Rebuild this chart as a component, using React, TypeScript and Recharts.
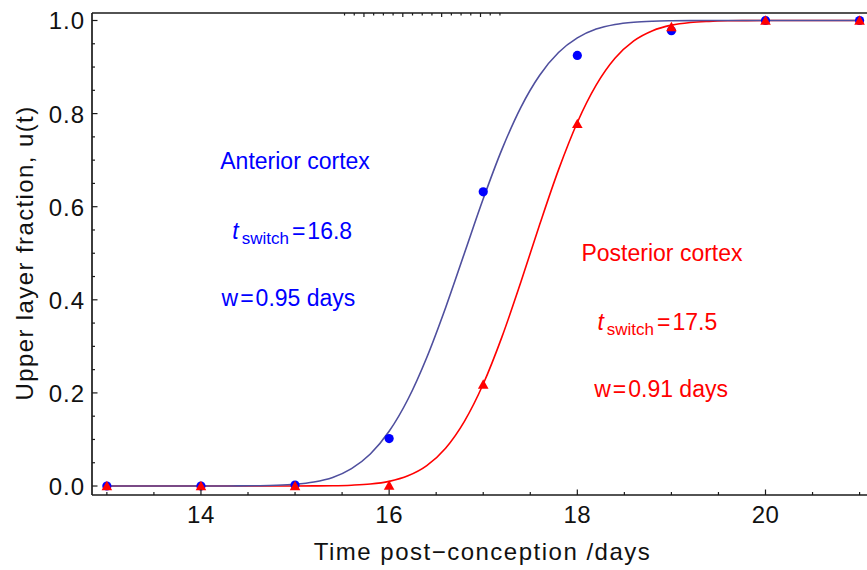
import { ComposedChart, Line, Scatter, XAxis, YAxis, ReferenceDot } from 'recharts';

// fitted switching curves, sampled every 0.2 days
const fitTimes = [
    13, 13.2, 13.4, 13.6, 13.8, 14, 14.2, 14.4, 14.6, 14.8,
    15, 15.2, 15.4, 15.6, 15.8, 16, 16.2, 16.4, 16.6, 16.8,
    17, 17.2, 17.4, 17.6, 17.8, 18, 18.2, 18.4, 18.6, 18.8,
    19, 19.2, 19.4, 19.6, 19.8, 20, 20.2, 20.4, 20.6, 20.8, 21,
];
const anteriorFit = [
    0, 0, 0, 0, 0, 0, 0, 0.0002, 0.0006, 0.0015,
    0.0037, 0.0086, 0.0185, 0.0374, 0.0688, 0.1175, 0.1864, 0.2762, 0.3831, 0.5,
    0.6169, 0.7238, 0.8136, 0.8825, 0.9312, 0.9626, 0.9815, 0.9914, 0.9963, 0.9985,
    0.9994, 0.9998, 1, 1, 1, 1, 1, 1, 1, 1, 1,
];
const posteriorFit = [
    0, 0, 0, 0, 0, 0, 0, 0, 0, 0,
    0, 0.0002, 0.0006, 0.0018, 0.0042, 0.01, 0.0219, 0.0438, 0.0812, 0.1389,
    0.2191, 0.3209, 0.4383, 0.5617, 0.6791, 0.7809, 0.8611, 0.9188, 0.9562, 0.9781,
    0.99, 0.9958, 0.9982, 0.9994, 0.9998, 1, 1, 1, 1, 1, 1,
];

// measured fractions
const sampleDays = [13, 14, 15, 16, 17, 18, 19, 20, 21];
const anteriorObs = [0, 0, 0.002, 0.102, 0.632, 0.925, 0.978, 1, 1];
const posteriorObs = [0, 0, 0, 0.001, 0.218, 0.778, 0.986, 1, 1];

const xTicks = [13, 13.5, 14, 14.5, 15, 15.5, 16, 16.5, 17, 17.5, 18, 18.5, 19, 19.5, 20, 20.5, 21];
const xLabelled = [14, 16, 18, 20];
const yTicks = [
    0, 0.05, 0.1, 0.15, 0.2, 0.25, 0.3, 0.35, 0.4, 0.45, 0.5,
    0.55, 0.6, 0.65, 0.7, 0.75, 0.8, 0.85, 0.9, 0.95, 1,
];
const yLabelled = [0, 0.2, 0.4, 0.6, 0.8, 1];

const fitRows = fitTimes.map((t, i) => ({ t, anterior: anteriorFit[i], posterior: posteriorFit[i] }));
const anteriorPoints = sampleDays.map((t, i) => ({ t, u: anteriorObs[i] }));
const posteriorPoints = sampleDays.map((t, i) => ({ t, u: posteriorObs[i] }));

const FONT = '"Liberation Sans", Arial, sans-serif';
const AXIS = '#1a1a1a';
const BLUE = '#0000ff';
const RED = '#ff0000';
const X_DOMAIN = [12.842, 21.1];

const near = (list: number[], v: number) => list.some((m) => Math.abs(m - v) < 1e-6);

const BottomTick = ({ x, y, payload }: any) => {
    const major = near(xLabelled, payload.value);
    return (
        <g>
            <line x1={x} x2={x} y1={y} y2={y - (major ? 5.5 : 3)} stroke={AXIS} strokeWidth={1.2} />
            {major && (
                <text x={x} y={y + 28} textAnchor="middle" fontSize={24} letterSpacing={0.5} fontFamily={FONT} fill="#111">
                    {payload.value}
                </text>
            )}
        </g>
    );
};

const TopTick = ({ x, y, payload }: any) => {
    const major = near(xLabelled, payload.value);
    return <line x1={x} x2={x} y1={y} y2={y + (major ? 4 : 2.5)} stroke={AXIS} strokeWidth={1.2} />;
};

const LeftTick = ({ x, y, payload }: any) => {
    const major = near(yLabelled, payload.value);
    return (
        <g>
            <line x1={x} x2={x + (major ? 5.5 : 3)} y1={y} y2={y} stroke={AXIS} strokeWidth={1.2} />
            {major && (
                <text x={x - 7} y={y + 9} textAnchor="end" fontSize={24} letterSpacing={1} fontFamily={FONT} fill="#111">
                    {Number(payload.value).toFixed(1)}
                </text>
            )}
        </g>
    );
};

const Dot = (props: any) => <circle cx={props.cx} cy={props.cy} r={4.6} fill={BLUE} />;

const Triangle = (props: any) => {
    const { cx, cy } = props;
    return <polygon points={`${cx},${cy - 5.2} ${cx - 5.3},${cy + 4.2} ${cx + 5.3},${cy + 4.2}`} fill={RED} />;
};

const note = (text: string, color: string) => ({ viewBox }: any) => (
    <text x={viewBox.x} y={viewBox.y} textAnchor="middle" fontSize={23} fontFamily={FONT} fill={color}>
        {text}
    </text>
);

// "w=… days" with the wider spacing around the equals sign
const widthNote = (value: string, color: string) => ({ viewBox }: any) => (
    <text x={viewBox.x} y={viewBox.y} textAnchor="middle" fontSize={23} fontFamily={FONT} fill={color}>
        <tspan>w</tspan>
        <tspan dx={2}>=</tspan>
        <tspan dx={2}>{value} days</tspan>
    </text>
);

const switchNote = (value: string, color: string) => ({ viewBox }: any) => (
    <text x={viewBox.x} y={viewBox.y} textAnchor="middle" fontSize={23} fontFamily={FONT} fill={color}>
        <tspan fontStyle="italic">t</tspan>
        <tspan fontSize={17} dx={3} dy={5}>switch</tspan>
        <tspan dx={3} dy={-5}>=</tspan>
        <tspan dx={2}>{value}</tspan>
    </text>
);

export default function App() {
    return (
        <div style={{ position: 'absolute', left: 0, top: 0, width: 867, height: 570, overflow: 'hidden', background: '#fff' }}>
            <ComposedChart width={870} height={570} data={fitRows} margin={{ top: 0, right: 1, bottom: 0, left: 0 }}>
                <XAxis
                    xAxisId="top"
                    orientation="top"
                    type="number"
                    domain={X_DOMAIN}
                    allowDataOverflow
                    ticks={xTicks}
                    interval={0}
                    height={13}
                    tickSize={0}
                    tickMargin={0}
                    tick={<TopTick />}
                    axisLine={{ stroke: AXIS, strokeWidth: 1.7 }}
                />
                <XAxis
                    xAxisId="bottom"
                    dataKey="t"
                    type="number"
                    domain={X_DOMAIN}
                    allowDataOverflow
                    ticks={xTicks}
                    interval={0}
                    height={75}
                    tickSize={0}
                    tickMargin={0}
                    tick={<BottomTick />}
                    axisLine={{ stroke: AXIS, strokeWidth: 1.7 }}
                    label={{
                        content: ({ viewBox }: any) => (
                            <text
                                x={viewBox.x + viewBox.width / 2 + 2}
                                y={viewBox.y + 65}
                                textAnchor="middle"
                                fontSize={24}
                                letterSpacing={1.5}
                                fontFamily={FONT}
                                fill="#111"
                            >
                                Time post−conception /days
                            </text>
                        ),
                    }}
                />
                <YAxis
                    type="number"
                    domain={[-0.0193, 1.0161]}
                    allowDataOverflow
                    ticks={yTicks}
                    interval={0}
                    width={92}
                    tickSize={0}
                    tickMargin={0}
                    tick={<LeftTick />}
                    axisLine={{ stroke: AXIS, strokeWidth: 1.7 }}
                    label={{
                        content: ({ viewBox }: any) => {
                            const cx = 33;
                            const cy = viewBox.y + viewBox.height / 2 - 1;
                            return (
                                <text
                                    x={cx}
                                    y={cy}
                                    transform={`rotate(-90 ${cx} ${cy})`}
                                    textAnchor="middle"
                                    fontSize={24}
                                    letterSpacing={1.4}
                                    fontFamily={FONT}
                                    fill="#111"
                                >
                                    Upper layer fraction, u(t)
                                </text>
                            );
                        },
                    }}
                />

                <Line
                    xAxisId="bottom"
                    dataKey="posterior"
                    type="monotone"
                    stroke={RED}
                    strokeWidth={1.6}
                    dot={false}
                    activeDot={false}
                    isAnimationActive={false}
                />
                <Line
                    xAxisId="bottom"
                    dataKey="anterior"
                    type="monotone"
                    stroke="#4f4f9e"
                    strokeWidth={1.6}
                    dot={false}
                    activeDot={false}
                    isAnimationActive={false}
                />
                <Scatter xAxisId="bottom" data={anteriorPoints} dataKey="u" shape={<Dot />} isAnimationActive={false} />
                <Scatter xAxisId="bottom" data={posteriorPoints} dataKey="u" shape={<Triangle />} isAnimationActive={false} />

                <ReferenceDot xAxisId="bottom" x={15} y={0.681} r={0} fill="none" stroke="none" label={note('Anterior cortex', BLUE)} />
                <ReferenceDot xAxisId="bottom" x={14.97} y={0.531} r={0} fill="none" stroke="none" label={switchNote('16.8', BLUE)} />
                <ReferenceDot xAxisId="bottom" x={14.93} y={0.386} r={0} fill="none" stroke="none" label={widthNote('0.95', BLUE)} />
                <ReferenceDot xAxisId="bottom" x={18.9} y={0.483} r={0} fill="none" stroke="none" label={note('Posterior cortex', RED)} />
                <ReferenceDot xAxisId="bottom" x={18.85} y={0.335} r={0} fill="none" stroke="none" label={switchNote('17.5', RED)} />
                <ReferenceDot xAxisId="bottom" x={18.89} y={0.191} r={0} fill="none" stroke="none" label={widthNote('0.91', RED)} />
            </ComposedChart>
        </div>
    );
}
